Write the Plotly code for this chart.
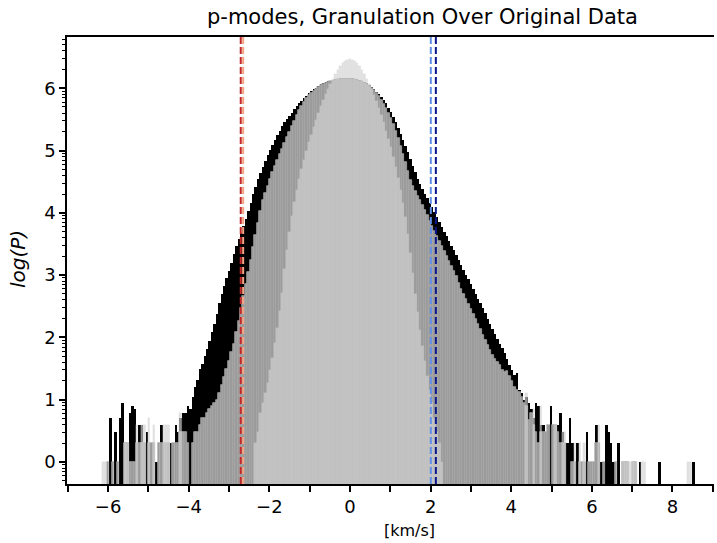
import numpy as np
import plotly.graph_objects as go

# Histogram bins (km/s)
bin_start = -6.15
bin_width = 0.06

# log10 of counts per bin (None = empty bin)
original = [
    None, None, None, 0.7, None, 0.48, None, 0.7, 0.95, None,
    None, 0.78, 0.9, 0.85, 0.3, 0.6, 0.6, 0.3, 0.48, 0.3,
    None, None, 0, None, 0.6, None, None, None, 0.3, None,
    0.6, 0.48, 0.7, 0.78, 0.78, 0.9, 0.85, 1.04, 1.2, 1.32,
    1.5, 1.58, 1.7, 1.82, 1.95, 2.08, 2.22, 2.38, 2.55, 2.69,
    2.82, 2.95, 3.06, 3.2, 3.34, 3.46, 3.58, 3.68, 3.79, 3.9,
    4.03, 4.16, 4.3, 4.42, 4.54, 4.64, 4.74, 4.83, 4.92, 5.01,
    5.09, 5.17, 5.25, 5.32, 5.39, 5.45, 5.51, 5.56, 5.61, 5.66,
    5.71, 5.76, 5.8, 5.84, 5.88, 5.92, 5.95, 5.98, 6.01, 6.03,
    6.06, 6.08, 6.1, 6.11, 6.12, 6.13, 6.14, 6.15, 6.16, 6.16,
    6.16, 6.16, 6.16, 6.16, 6.15, 6.14, 6.13, 6.12, 6.1, 6.08,
    6.05, 6.02, 5.98, 5.94, 5.9, 5.86, 5.81, 5.76, 5.69, 5.62,
    5.53, 5.45, 5.36, 5.27, 5.17, 5.07, 4.97, 4.86, 4.75, 4.65,
    4.55, 4.46, 4.38, 4.31, 4.23, 4.16, 4.09, 4.01, 3.93, 3.86,
    3.78, 3.7, 3.62, 3.55, 3.47, 3.4, 3.32, 3.24, 3.16, 3.08,
    3.0, 2.93, 2.86, 2.78, 2.7, 2.62, 2.55, 2.47, 2.39, 2.3,
    2.22, 2.13, 2.05, 1.98, 1.9, 1.83, 1.75, 1.66, 1.56, 1.48,
    1.4, 1.43, 1.15, 1.1, 1.0, 1.04, 0.95, 0.85, 0.7, 0.95,
    0.9, 0.6, 0.6, 0.48, 0.6, 0.9, 0.6, 0.48, 0.6, 0.78,
    0.48, 0.3, 0.3, 0.7, 0.3, 0, 0.3, 0, None, 0,
    0.48, 0, None, 0, 0.6, 0.3, 0, 0, 0.6, 0.48,
    0.3, 0, None, 0.3, None, None, None, None, None, None,
    None, None, 0, None, None, None, None, None, None, None,
    0, None, None, None, None, None, None, None, None, None,
    None, None, None, None, 0,
]

granulation = [
    None, None, 0, None, 0, None, 0, None, None, 0.3,
    0.3, 0, 0, 0, 0.3, 0.3, 0.3, 0.3, None, 0.3,
    0.3, 0.3, None, 0.3, 0.3, 0.3, 0.3, 0.3, None, 0.3,
    0.3, 0.3, 0.48, 0.48, 0.48, 0.3, None, 0.3, 0.48, 0.48,
    0.6, 0.7, 0.7, 0.78, 0.85, 0.9, 0.95, 1.0, 1.1, 1.23,
    1.36, 1.5, 1.62, 1.76, 1.9, 2.08, 2.27, 2.47, 2.66, 2.86,
    3.05, 3.25, 3.45, 3.65, 3.84, 4.03, 4.2, 4.32, 4.43, 4.54,
    4.65, 4.75, 4.85, 4.94, 5.03, 5.12, 5.21, 5.3, 5.39, 5.48,
    5.57, 5.65, 5.72, 5.78, 5.84, 5.89, 5.93, 5.96, 5.99, 6.02,
    6.05, 6.07, 6.09, 6.1, 6.11, 6.12, 6.13, 6.14, 6.15, 6.15,
    6.15, 6.15, 6.15, 6.15, 6.14, 6.13, 6.12, 6.11, 6.09, 6.07,
    6.04, 6.01, 5.97, 5.92, 5.87, 5.81, 5.75, 5.68, 5.6, 5.52,
    5.42, 5.32, 5.2, 5.08, 4.95, 4.82, 4.67, 4.53, 4.43, 4.35,
    4.27, 4.2, 4.12, 4.04, 3.96, 3.87, 3.79, 3.71, 3.63, 3.55,
    3.47, 3.39, 3.31, 3.23, 3.15, 3.07, 2.98, 2.88, 2.78, 2.69,
    2.61, 2.53, 2.45, 2.37, 2.29, 2.21, 2.13, 2.04, 1.96, 1.88,
    1.8, 1.72, 1.65, 1.6, 1.55, 1.48, 1.45, 1.46, 1.38, 1.3,
    1.2, 1.15, 1.12, 1.05, 0.95, 0.9, 0.68, 0.78, 0.6, 0.48,
    0.3, 0.48, 0.48, 0.48, 0.6, None, 0.6, 0.6, 0.48, 0.3,
    0.3, 0.3, None, None, 0, 0, None, 0, 0, 0,
    None, 0, 0, 0, 0.3, 0.3, None, 0, None, None,
    None, None, 0, None, None, 0, 0, 0, None, 0,
    0, None, None, None, None, None, None, None, None, None,
    None, None, None, None, None, None, None, None, None, None,
    None, None, None, None, None,
]

pmodes = [
    0, 0, None, None, None, None, None, None, None, 0.3,
    0.3, None, None, None, 0.6, None, 0.6, 0.6, None, 0.7,
    None, 0.6, None, None, None, 0.6, 0.6, 0.6, None, None,
    None, None, 0.78, None, None, None, None, None, None, None,
    None, None, None, None, None, None, None, None, None, None,
    None, None, None, None, None, None, None, None, None, None,
    None, None, None, 0.3, 0.48, 0.78, 0.95, 1.1, 1.27, 1.47,
    1.67, 1.91, 2.15, 2.42, 2.72, 3.1, 3.4, 3.7, 3.95, 4.17,
    4.36, 4.54, 4.7, 4.85, 5.0, 5.13, 5.25, 5.37, 5.49, 5.6,
    5.71, 5.81, 5.9, 5.99, 6.07, 6.15, 6.23, 6.3, 6.36, 6.41,
    6.44, 6.46, 6.47, 6.46, 6.44, 6.41, 6.36, 6.3, 6.23, 6.15,
    6.07, 5.98, 5.89, 5.79, 5.68, 5.57, 5.45, 5.32, 5.19, 5.05,
    4.9, 4.74, 4.56, 4.37, 4.16, 3.93, 3.66, 3.36, 3.03, 2.7,
    2.4, 2.12, 1.86, 1.62, 1.38, 1.15, 0.95, 0.7, 0.48, 0.3,
    0, None, None, None, None, None, None, None, None, None,
    None, None, None, None, None, None, None, None, None, None,
    None, None, None, None, None, None, None, None, None, None,
    None, None, None, None, None, 1.1, None, None, 0.85, None,
    None, 0.9, None, None, None, None, None, 0.6, None, None,
    0.48, 0.48, None, None, None, 0.3, None, 0.3, None, 0.3,
    None, None, None, None, None, 0.6, None, None, None, None,
    None, None, None, None, None, 0, 0, 0, 0, 0,
    0, None, None, 0, 0, None, None, None, None, None,
    None, None, None, None, None, None, None, None, None, None,
    None, None, 0, 0, None,
]

# dashed threshold lines (km/s) and their colours
threshold_x = [-2.71, -2.65, 2.005, 2.13]
threshold_colors = ["#c0282a", "#f4a582", "#5f8fe8", "#0a168c"]

x_tick_vals = list(range(-7, 10))
x_tick_text = [("\u2212" + str(-v) if v < 0 else str(v)) if v % 2 == 0 else ""
               for v in x_tick_vals]
y_tick_vals = list(range(0, 7))
y_tick_text = [str(v) for v in y_tick_vals]

Y_MIN, Y_MAX = -0.353, 6.822
X_MIN, X_MAX = -7.02, 9.03
BAR_BASE = -1.0

n = len(original)
centers = bin_start + bin_width * (np.arange(n) + 0.5)


def heights(vals):
    return [None if v is None else v - BAR_BASE for v in vals]


styles = [
    (original, "#000000", dict(width=0)),
    (granulation, "#9b9b9b", dict(width=0.7, color="#b0b0b0")),
    (pmodes, "rgba(210,210,210,0.67)", dict(width=0.5, color="rgba(230,230,230,0.25)")),
]

fig = go.Figure()
for vals, color, edge in styles:
    fig.add_trace(go.Bar(
        x=centers, y=heights(vals), base=BAR_BASE, width=bin_width,
        marker=dict(color=color, line=edge),
        showlegend=False, hoverinfo="skip"))

for xv, c in zip(threshold_x, threshold_colors):
    fig.add_shape(type="line", xref="x", yref="paper", x0=xv, x1=xv, y0=0, y1=1,
                  line=dict(color=c, width=2, dash="7px,3px"))

minor_vals = [k + np.log10(m) for k in range(-1, 7) for m in range(2, 10)
              if Y_MIN <= k + np.log10(m) <= Y_MAX]

L, R, T, B = 67, 3, 37, 59
W, H = 717, 543
pw, ph = W - L - R, H - T - B


def px_to_paper(px, py):
    return (px - L) / pw, (H - B - py) / ph


fig.update_layout(
    width=W, height=H, margin=dict(l=L, r=R, t=T, b=B),
    paper_bgcolor="white", plot_bgcolor="white",
    barmode="overlay", bargap=0,
    font=dict(family="DejaVu Sans", color="black"),
    xaxis=dict(range=[X_MIN, X_MAX], tickmode="array", tickvals=x_tick_vals,
               ticktext=x_tick_text, ticks="outside", ticklen=6, tickwidth=1.5,
               tickcolor="black", showline=True, linecolor="black", linewidth=1.5,
               mirror=True, showgrid=False, zeroline=False, tickfont=dict(size=18)),
    yaxis=dict(range=[Y_MIN, Y_MAX], tickmode="array", tickvals=y_tick_vals,
               ticktext=y_tick_text, ticks="outside", ticklen=6, tickwidth=1.5,
               tickcolor="black", showline=True, linecolor="black", linewidth=1.5,
               showgrid=False, zeroline=False, tickfont=dict(size=18),
               minor=dict(tickmode="array", tickvals=minor_vals, ticks="outside",
                          ticklen=3.5, tickwidth=1, tickcolor="black", showgrid=False)),
)

tx, ty = px_to_paper(422, 17)
fig.add_annotation(text="p-modes, Granulation Over Original Data", xref="paper", yref="paper",
                   x=tx, y=ty, showarrow=False, font=dict(size=21), xanchor="center", yanchor="middle")
lx, ly = px_to_paper(409, 530)
fig.add_annotation(text="[km/s]", xref="paper", yref="paper", x=lx, y=ly, showarrow=False,
                   font=dict(size=16), xanchor="center", yanchor="middle")
yx, yy = px_to_paper(18, 259)
fig.add_annotation(text="<i>log(P)</i>", xref="paper", yref="paper", x=yx, y=yy, showarrow=False,
                   font=dict(size=20), textangle=-90, xanchor="center", yanchor="middle")

fig.write_html("out.html")
